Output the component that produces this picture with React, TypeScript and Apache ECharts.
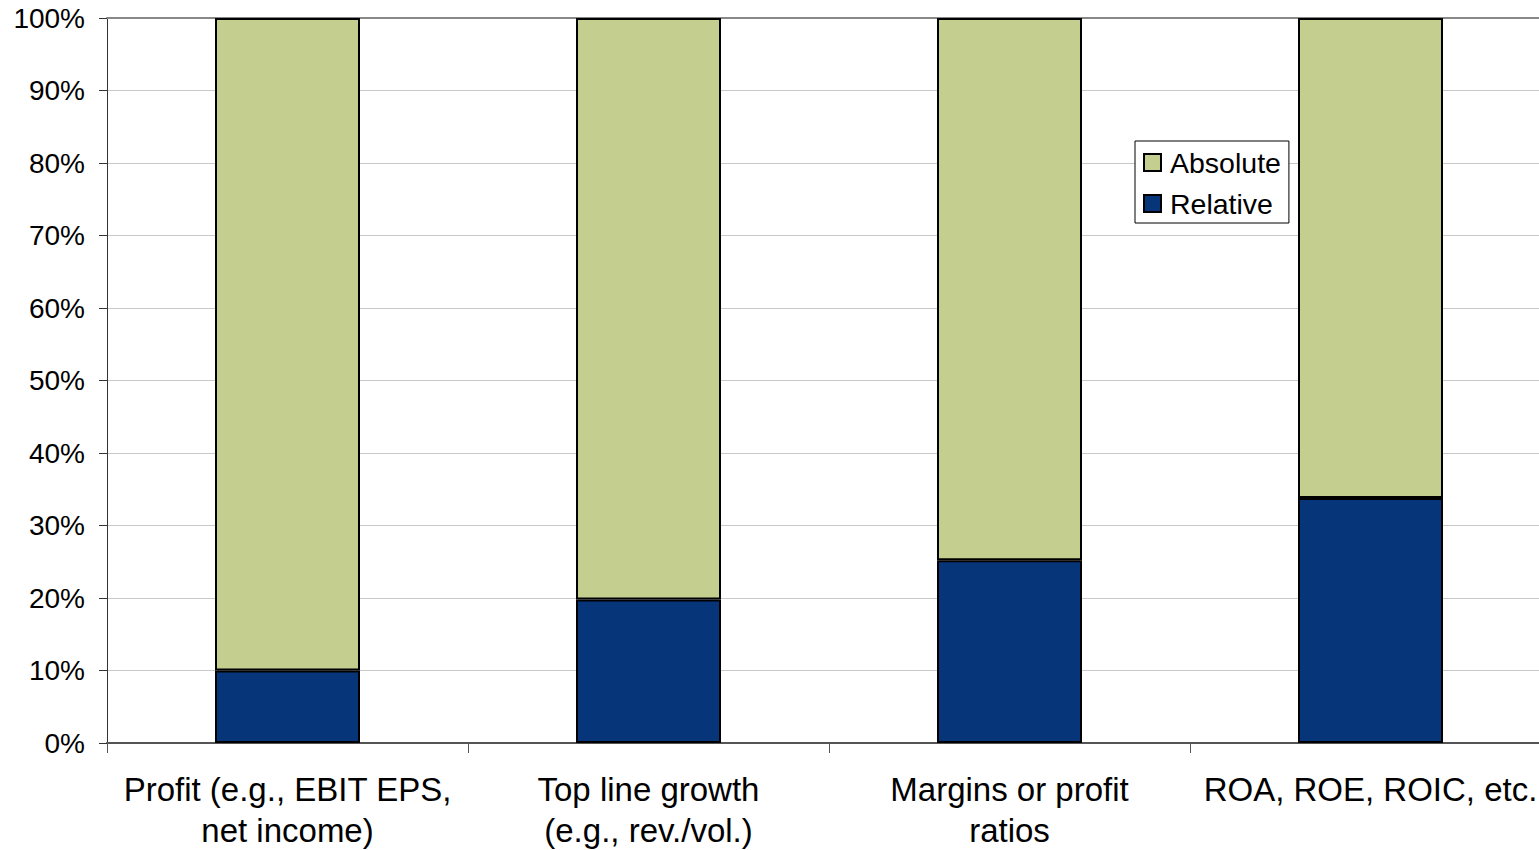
import React, { useEffect, useRef } from "react";
import * as echarts from "echarts";

const categories = [
  "Profit (e.g., EBIT EPS,\nnet income)",
  "Top line growth\n(e.g., rev./vol.)",
  "Margins or profit\nratios",
  "ROA, ROE, ROIC, etc.",
];
const relative = [10, 19.8, 25.2, 33.8];
const absolute = [90, 80.2, 74.8, 66.2];
const yTicks = [0, 10, 20, 30, 40, 50, 60, 70, 80, 90, 100];

const FONT = "'Liberation Sans', Arial, Helvetica, sans-serif";

export default function App() {
  const ref = useRef<HTMLDivElement>(null);
  useEffect(() => {
    document.body.style.margin = "0";
    document.body.style.overflow = "hidden";
    const chart = echarts.init(ref.current!, null, { renderer: "svg" });
    chart.setOption({
      animation: false,
      backgroundColor: "#ffffff",
      textStyle: { fontFamily: FONT },
      grid: {
        left: 107,
        top: 18,
        width: 1444,
        height: 725,
        containLabel: false,
        outerBoundsMode: "none",
      },
      legend: {
        orient: "vertical",
        left: 1135,
        top: 141,
        padding: [7, 8, 5, 8],
        itemGap: 12,
        itemWidth: 17,
        itemHeight: 17,
        backgroundColor: "#ffffff",
        borderColor: "#000000",
        borderWidth: 1,
        borderRadius: 0,
        textStyle: { fontFamily: FONT, fontSize: 28.5, color: "#000", padding: [0, 0, 0, 4] },
        data: [
          { name: "Absolute", icon: "rect", itemStyle: { borderColor: "#000", borderWidth: 2 } },
          { name: "Relative", icon: "rect", itemStyle: { borderColor: "#000", borderWidth: 2 } },
        ],
      },
      xAxis: [
        {
          type: "category",
          data: categories,
          boundaryGap: true,
          axisLine: { lineStyle: { color: "#555555", width: 2 } },
          axisTick: { show: true, length: 10, lineStyle: { color: "#555555", width: 1 } },
          axisLabel: {
            fontFamily: FONT,
            fontSize: 33,
            color: "#000",
            margin: 26,
            lineHeight: 41,
            interval: 0,
          },
          splitLine: { show: false },
        },
        {
          type: "category",
          position: "top",
          data: categories,
          axisLine: { show: true, lineStyle: { color: "#888888", width: 2 } },
          axisTick: { show: false },
          axisLabel: { show: false },
        },
      ],
      yAxis: {
        type: "value",
        min: 0,
        max: 100,
        interval: 10,
        axisLine: { show: true, lineStyle: { color: "#333333", width: 1 } },
        axisTick: { show: true, length: 8, inside: false, lineStyle: { color: "#333333" } },
        axisLabel: {
          fontFamily: FONT,
          fontSize: 28,
          color: "#000",
          margin: 22,
          formatter: (v: number) => (yTicks.includes(v) ? v + "%" : ""),
        },
        splitLine: { show: true, lineStyle: { color: "#c8c8c8", width: 1 } },
      },
      series: [
        {
          name: "Relative",
          type: "bar",
          stack: "total",
          barWidth: 145,
          data: relative,
          itemStyle: { color: "#06357A", borderColor: "#000", borderWidth: 2 },
        },
        {
          name: "Absolute",
          type: "bar",
          stack: "total",
          barWidth: 145,
          data: absolute,
          itemStyle: { color: "#C4CF8F", borderColor: "#000", borderWidth: 2 },
        },
      ],
    });
    return () => chart.dispose();
  }, []);
  return (
    <div style={{ position: "fixed", left: 0, top: 0, width: 1539, height: 850, overflow: "hidden" }}>
      <div ref={ref} style={{ width: 1600, height: 850 }} />
    </div>
  );
}
